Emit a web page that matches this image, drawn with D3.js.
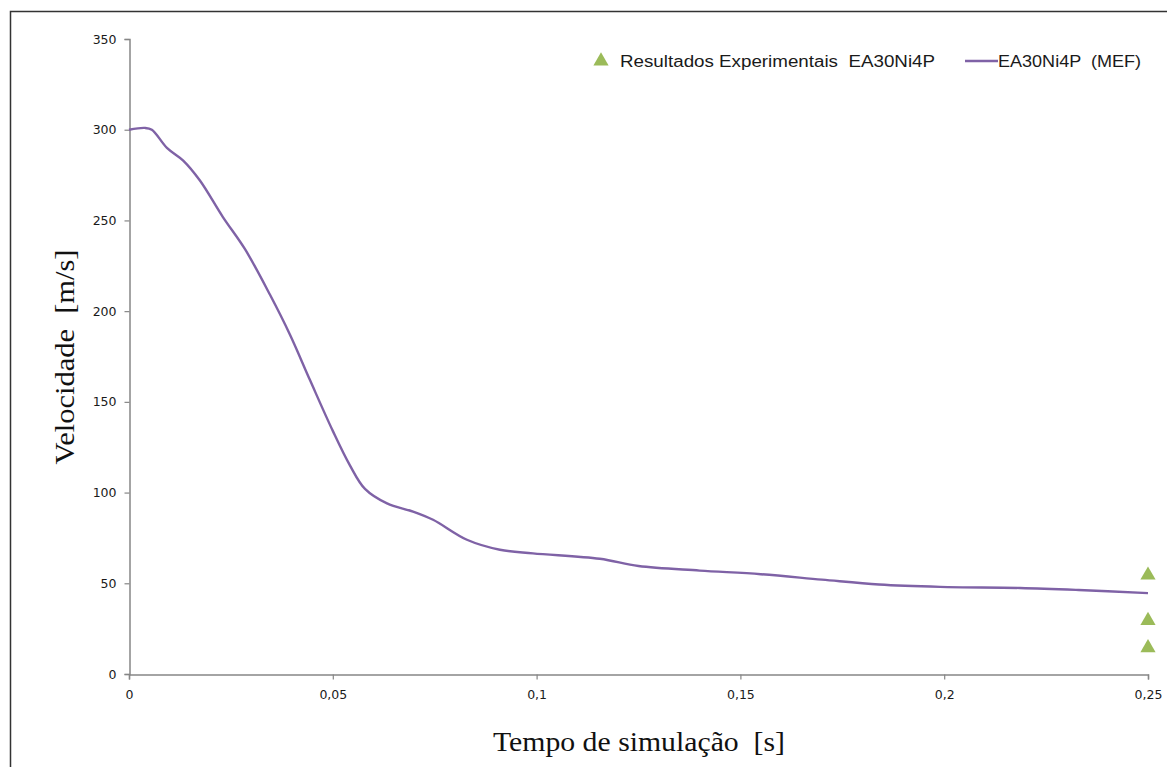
<!DOCTYPE html>
<html>
<head>
<meta charset="utf-8">
<script src="https://cdn.jsdelivr.net/npm/d3@7"></script>
<style>
  html, body { margin: 0; padding: 0; background: #fff; }
  svg { display: block; }
</style>
</head>
<body>
<svg id="chart" width="1167" height="767"></svg>
<script>
// Simulated velocity (MEF) over time
const simTime = [0, 0.0039, 0.0056, 0.0093, 0.0133, 0.0174, 0.0230, 0.0285, 0.0346, 0.0395, 0.0444, 0.0500,
  0.0542, 0.0579, 0.0633, 0.0697, 0.0746, 0.0829, 0.0910, 0.0991, 0.1155, 0.1250, 0.1400, 0.1550,
  0.1700, 0.1840, 0.1990, 0.2186, 0.2330, 0.2500];
const simVelocity = [300, 301, 300, 290, 283, 272, 252, 234, 209, 187, 162, 134,
  115, 102, 94, 89.5, 85, 74, 68.5, 66.5, 63.5, 59.5, 57, 55,
  52, 49.3, 48, 47.4, 46.3, 44.6];

// Experimental results at the end of the impact
const expTime = [0.25, 0.25, 0.25];
const expVelocity = [55, 30, 15];

const xTicks = [0, 0.05, 0.1, 0.15, 0.2, 0.25];
const yTicks = [0, 50, 100, 150, 200, 250, 300, 350];

const legendLabels = ["Resultados Experimentais  EA30Ni4P", "EA30Ni4P  (MEF)"];

const svg = d3.select("#chart");

// outer frame
svg.append("rect")
  .attr("x", 10.5).attr("y", 11.5)
  .attr("width", 1200).attr("height", 800)
  .attr("fill", "none").attr("stroke", "#333").attr("stroke-width", 1.5);

const x = d3.scaleLinear().domain([0, 0.25]).range([129, 1148]);
const y = d3.scaleLinear().domain([0, 350]).range([674, 39]);

const fmt = d => d3.format("")(d).replace(".", ",");
const axisColor = "#868686";
const tickFont = "'DejaVu Sans', Verdana, sans-serif";

// y axis
const gy = svg.append("g")
  .attr("transform", "translate(129.5,0)")
  .call(d3.axisLeft(y).tickValues(yTicks).tickSize(5).tickPadding(8).tickFormat(d3.format("")));
gy.select(".domain").attr("stroke", axisColor).attr("stroke-width", 1.5);
gy.selectAll(".tick line").attr("stroke", axisColor).attr("stroke-width", 1.2);
gy.selectAll(".tick text").attr("fill", "#1a1a1a").style("font-family", tickFont).style("font-size", "12.5px");

// x axis
const gx = svg.append("g")
  .attr("transform", "translate(0,674.5)")
  .call(d3.axisBottom(x).tickValues(xTicks).tickSize(5).tickPadding(11).tickFormat(fmt));
gx.select(".domain").attr("stroke", axisColor).attr("stroke-width", 1.5);
gx.selectAll(".tick line").attr("stroke", axisColor).attr("stroke-width", 1.2);
gx.selectAll(".tick text").attr("fill", "#1a1a1a").style("font-family", tickFont).style("font-size", "12.5px");

// simulated curve
const lineData = simTime.map((t, i) => [t, simVelocity[i]]);
svg.append("path")
  .datum(lineData)
  .attr("fill", "none")
  .attr("stroke", "#7F62A6")
  .attr("stroke-width", 2.4)
  .attr("stroke-linejoin", "round")
  .attr("d", d3.line().x(d => x(d[0])).y(d => y(d[1])).curve(d3.curveCatmullRom.alpha(0.5)));

// experimental points
const tri = d3.symbol().type(d3.symbolTriangle).size(100);
svg.selectAll("path.exp")
  .data(expTime.map((t, i) => [t, expVelocity[i]]))
  .join("path")
  .attr("class", "exp")
  .attr("fill", "#9BBB59")
  .attr("transform", d => `translate(${x(d[0])},${y(d[1]) + 1})`)
  .attr("d", tri);

// legend
const legendFont = "'Liberation Sans', Arial, sans-serif";
svg.append("path")
  .attr("fill", "#9BBB59")
  .attr("transform", "translate(601,61)")
  .attr("d", tri);
svg.append("text")
  .attr("x", 620).attr("y", 67)
  .attr("fill", "#1a1a1a")
  .style("font-family", legendFont).style("font-size", "16px")
  .style("white-space", "pre")
  .attr("textLength", 315).attr("lengthAdjust", "spacingAndGlyphs")
  .text(legendLabels[0]);
svg.append("line")
  .attr("x1", 965).attr("x2", 998).attr("y1", 61).attr("y2", 61)
  .attr("stroke", "#7F62A6").attr("stroke-width", 2.4);
svg.append("text")
  .attr("x", 998).attr("y", 67)
  .attr("fill", "#1a1a1a")
  .style("font-family", legendFont).style("font-size", "16px")
  .style("white-space", "pre")
  .attr("textLength", 143).attr("lengthAdjust", "spacingAndGlyphs")
  .text(legendLabels[1]);

// axis titles
const titleFont = "'Liberation Serif', 'Times New Roman', serif";
svg.append("text")
  .attr("x", 639).attr("y", 751)
  .attr("text-anchor", "middle")
  .attr("fill", "#111")
  .style("font-family", titleFont).style("font-size", "28px")
  .style("white-space", "pre")
  .attr("textLength", 292).attr("lengthAdjust", "spacingAndGlyphs")
  .text("Tempo de simulação  [s]");
svg.append("text")
  .attr("transform", "translate(74,357) rotate(-90)")
  .attr("text-anchor", "middle")
  .attr("fill", "#111")
  .style("font-family", titleFont).style("font-size", "28px")
  .style("white-space", "pre")
  .attr("textLength", 215).attr("lengthAdjust", "spacingAndGlyphs")
  .text("Velocidade  [m/s]");
</script>
</body>
</html>
